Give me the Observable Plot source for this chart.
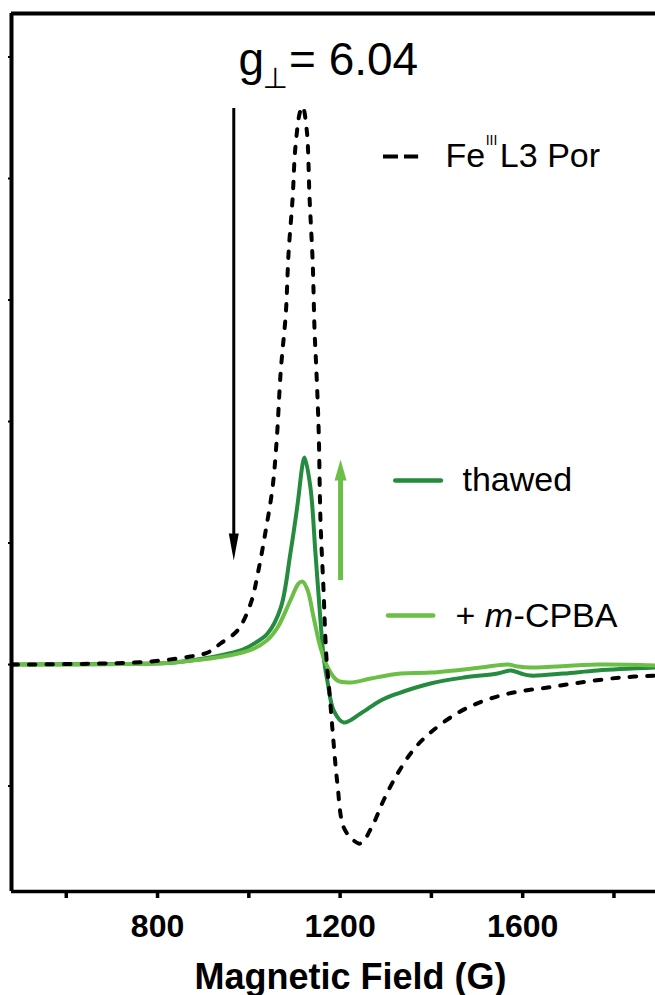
<!DOCTYPE html>
<html>
<head>
<meta charset="utf-8">
<script src="https://cdn.jsdelivr.net/npm/d3@7"></script>
<script src="https://cdn.jsdelivr.net/npm/@observablehq/plot@0.6"></script>
<style>
  html, body { margin: 0; padding: 0; background: #fff; overflow: hidden; }
  #chart svg { display: block; }
</style>
</head>
<body>
<div id="chart"></div>
<script>
// EPR spectra (derivative signal, arbitrary units) vs magnetic field in gauss.
const porField  = [480, 675, 785, 872, 910, 938, 975, 1004, 1021, 1037, 1052, 1061, 1070, 1081, 1087, 1096, 1102, 1113, 1118, 1127, 1133, 1140, 1144, 1148, 1153, 1157, 1164, 1167, 1171, 1175, 1184, 1194, 1208, 1230, 1245, 1273, 1295, 1326, 1361, 1398, 1457, 1514, 1580, 1655, 1727, 1815, 1891];
const porSignal = [0, 0.008, 0.025, 0.066, 0.099, 0.173, 0.280, 0.502, 0.774, 1.103, 1.457, 1.844, 2.420, 2.889, 3.383, 3.844, 4.255, 4.56, 4.59, 4.395, 3.844, 3.300, 2.749, 2.420, 1.926, 1.185, 0.584, 0.28, 0.0, -0.156, -0.568, -0.979, -1.342, -1.449, -1.473, -1.309, -1.119, -0.897, -0.70, -0.56, -0.40, -0.30, -0.230, -0.189, -0.148, -0.107, -0.091];

const thawedField  = [480, 700, 822, 894, 950, 988, 1015, 1041, 1070, 1091, 1107, 1118, 1122, 1135, 1146, 1157, 1164, 1173, 1186, 1208, 1245, 1289, 1326, 1398, 1471, 1545, 1574, 1596, 1617, 1690, 1764, 1891];
const thawedSignal = [0, 0.004, 0.012, 0.045, 0.085, 0.125, 0.18, 0.255, 0.469, 0.914, 1.325, 1.654, 1.704, 1.457, 0.914, 0.362, 0.058, -0.156, -0.379, -0.477, -0.403, -0.296, -0.239, -0.156, -0.107, -0.074, -0.049, -0.074, -0.091, -0.074, -0.049, -0.025];

const mcpbaField  = [480, 700, 822, 894, 950, 1004, 1040, 1063, 1091, 1109, 1118, 1129, 1142, 1157, 1173, 1194, 1223, 1267, 1333, 1398, 1508, 1567, 1589, 1617, 1764, 1891];
const mcpbaSignal = [0, 0.003, 0.012, 0.04, 0.07, 0.12, 0.2, 0.305, 0.527, 0.667, 0.683, 0.609, 0.387, 0.140, -0.025, -0.132, -0.148, -0.115, -0.074, -0.066, -0.025, 0.0, -0.016, -0.025, 0.0, -0.008];

const xTicks = [600, 800, 1000, 1200, 1400, 1600, 1800];
const xTickLabels = [800, 1200, 1600];
const yTicks = [-1, 0, 1, 2, 3, 4, 5];

const seriesNames = ["FeIIIL3 Por", "thawed", "+ m-CPBA"];
const gPerp = 6.04;
const shiftField = [967, 1201]; // fields of the decrease / increase arrows

const DARK = "#258b3e";
const LIGHT = "#6cbf46";
const FONT = "'Liberation Sans', Arial, Helvetica, sans-serif";

const toRows = (xs, ys) => xs.map((x, i) => ({field: x, signal: ys[i]}));
const por = toRows(porField, porSignal);
const thawed = toRows(thawedField, thawedSignal);
const mcpba = toRows(mcpbaField, mcpbaSignal);

// Filled arrowhead symbols (size = r² π as passed by Plot.dot)
const headDown = {draw(ctx, size) { const r = Math.sqrt(size / Math.PI); ctx.moveTo(-0.37 * r, -r); ctx.lineTo(0.37 * r, -r); ctx.lineTo(0, r); ctx.closePath(); }};
const headUp = {draw(ctx, size) { const r = Math.sqrt(size / Math.PI); ctx.moveTo(-0.57 * r, r); ctx.lineTo(0.57 * r, r); ctx.lineTo(0, -r); ctx.closePath(); }};

const xMin = 480, xMax = 1891, yMin = -1.868, yMax = 5.358;
const txt = {textAnchor: "start", lineAnchor: "bottom", fontFamily: FONT, fill: "black"};
const curve = "catmull-rom";

const chart = Plot.plot({
  width: 655,
  height: 995,
  marginLeft: 11,
  marginRight: 0,
  marginTop: 13,
  marginBottom: 104,
  style: {fontFamily: FONT, background: "white", overflow: "visible"},
  x: {domain: [xMin, xMax]},
  y: {domain: [yMin, yMax]},
  marks: [
    // axes
    Plot.axisX({ticks: xTicks, tickSize: 7, tickPadding: 16, strokeWidth: 3.5,
      tickFormat: d => xTickLabels.includes(d) ? String(d) : "",
      fontSize: 32, fontWeight: "bold", fontFamily: FONT, label: null}),
    Plot.axisY({ticks: yTicks, tickSize: 3, strokeWidth: 2, tickFormat: () => "", label: null}),
    Plot.text(["Magnetic Field (G)"], {frameAnchor: "bottom", dx: 17, dy: 97, lineAnchor: "bottom",
      fontSize: 36, fontWeight: "bold", fontFamily: FONT}),

    // spectra
    Plot.line(thawed, {x: "field", y: "signal", stroke: DARK, strokeWidth: 4, curve, clip: true}),
    Plot.line(mcpba, {x: "field", y: "signal", stroke: LIGHT, strokeWidth: 4, curve, clip: true}),
    Plot.line(por, {x: "field", y: "signal", stroke: "black", strokeWidth: 4, strokeDasharray: "6.5,11",
      strokeLinecap: "round", curve, clip: true}),

    // frame: left, top, bottom
    Plot.ruleX([xMin], {strokeWidth: 4}),
    Plot.ruleY([yMax], {strokeWidth: 4}),
    Plot.ruleY([yMin], {strokeWidth: 3.5}),

    // intensity-change arrows
    Plot.ruleX([shiftField[0]], {y1: 4.576, y2: 1.0, stroke: "black", strokeWidth: 3}),
    Plot.dot([shiftField[0]], {x: d => d, y: 0.967, r: 13.5, symbol: headDown, fill: "black", stroke: null}),
    Plot.ruleX([shiftField[1]], {y1: 0.691, y2: 1.55, stroke: LIGHT, strokeWidth: 5}),
    Plot.dot([shiftField[1]], {x: d => d, y: 1.601, r: 10.5, symbol: headUp, fill: LIGHT, stroke: null}),

    // g-value label
    Plot.text(["g"], {...txt, x: 977.5, y: 4.848, fontSize: 46}),
    Plot.text(["⊥"], {...txt, x: 1030, y: 4.741, fontSize: 29, fontFamily: "'DejaVu Sans', sans-serif"}),
    Plot.text([`= ${gPerp.toFixed(2)}`], {...txt, x: 1088, y: 4.848, fontSize: 46}),

    // legend
    Plot.ruleY([4.181], {x1: 1295, x2: 1372, stroke: "black", strokeWidth: 4, strokeDasharray: "15,6"}),
    Plot.text(["Fe"], {...txt, x: 1431, y: 4.091, fontSize: 34}),
    Plot.text(["III"], {...txt, x: 1519, y: 4.272, fontSize: 14}),
    Plot.text(["L3 Por"], {...txt, x: 1550, y: 4.091, fontSize: 34}),

    Plot.ruleY([1.514], {x1: 1322, x2: 1422, stroke: DARK, strokeWidth: 4.5, strokeLinecap: "round"}),
    Plot.text([seriesNames[1]], {...txt, x: 1468, y: 1.432, fontSize: 34}),

    Plot.ruleY([0.403], {x1: 1306, x2: 1405, stroke: LIGHT, strokeWidth: 4.5, strokeLinecap: "round"}),
    Plot.text(["+"], {...txt, x: 1453, y: 0.305, fontSize: 34}),
    Plot.text(["m"], {...txt, x: 1517, y: 0.305, fontSize: 34, fontStyle: "italic"}),
    Plot.text(["-CPBA"], {...txt, x: 1580, y: 0.305, fontSize: 34})
  ]
});

document.getElementById("chart").appendChild(chart);
</script>
</body>
</html>
